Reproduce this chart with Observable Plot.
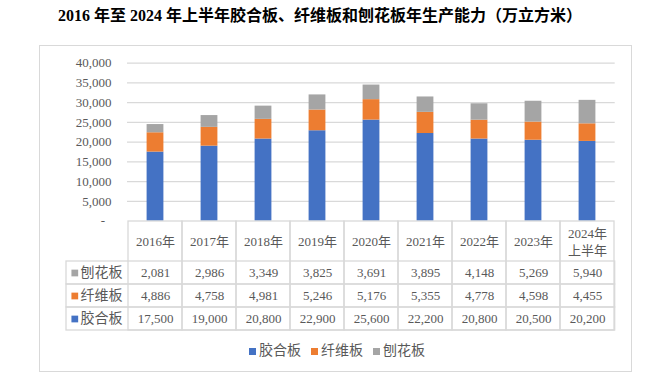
<!DOCTYPE html>
<html><head><meta charset="utf-8">
<script src="https://cdn.jsdelivr.net/npm/d3@7"></script>
<script src="https://cdn.jsdelivr.net/npm/@observablehq/plot@0.6"></script>
<style>
body{margin:0;background:#fff;}
#wrap{position:relative;width:650px;height:384px;overflow:hidden;background:#fff;font-family:'Liberation Serif','Noto Sans CJK SC',serif;}
#title{position:absolute;left:58px;top:6px;font-size:16px;font-weight:bold;line-height:20px;color:#000;white-space:nowrap;}
#frame{position:absolute;left:39px;top:45px;width:593px;height:327px;border:1.5px solid #d9d9d9;box-sizing:border-box;}
.layer{position:absolute;left:0;}
#legend{position:absolute;left:249px;top:341px;}
#legend .lg-swatches{font-family:'Liberation Serif','Noto Sans CJK SC',serif;font-size:14px;color:#595959;min-height:0;margin:0;line-height:20px;}
#legend .lg-swatch{margin-right:10px;}
#legend .lg-swatch > svg{margin-right:3px;}
</style></head>
<body>
<div id="wrap">
  <div id="title">2016 年至 2024 年上半年胶合板、纤维板和刨花板年生产能力（万立方米）</div>
  <div id="frame"></div>
  <div id="chart" class="layer" style="top:0"></div>
  <div id="table" class="layer" style="top:220px"></div>
  <div id="legend"></div>
</div>
<script>
// ---- data ----
const years = ["2016年","2017年","2018年","2019年","2020年","2021年","2022年","2023年","2024年\n上半年"];
const series = ["胶合板","纤维板","刨花板"];
const tableRows = ["刨花板","纤维板","胶合板"];
const plywood = [17500,19000,20800,22900,25600,22200,20800,20500,20200];
const fiberboard = [4886,4758,4981,5246,5176,5355,4778,4598,4455];
const particleboard = [2081,2986,3349,3825,3691,3895,4148,5269,5940];
const yTicks = [0,5000,10000,15000,20000,25000,30000,35000,40000];

const colors = ["#4472C4","#ED7D31","#A5A5A5"];
const valuesOf = {"胶合板":plywood,"纤维板":fiberboard,"刨花板":particleboard};
const fmt = d3.format(",");
const font = "'Liberation Serif','Noto Sans CJK SC',serif";
const grid = "#d9d9d9";

const rows = years.flatMap((yr,i)=>series.map(s=>({year:yr, series:s, value:valuesOf[s][i]})));
const cells = years.flatMap((yr,i)=>tableRows.map(s=>({year:yr, series:s, value:valuesOf[s][i]})));

const p1 = Plot.plot({
  width:650, height:225, marginTop:62.7, marginBottom:4.3, marginLeft:127, marginRight:35.3,
  style:{background:"transparent", overflow:"visible", fontFamily:font, fontSize:"13px"},
  x:{domain:years, padding:0, axis:null},
  y:{domain:[0,40000]},
  color:{domain:series, range:colors},
  marks:[
    Plot.ruleY(yTicks.filter(d=>d>0), {stroke:grid, strokeWidth:1.3}),
    Plot.barY(rows, {x:"year", y:"value", fill:"series", order:series, insetLeft:18.6, insetRight:18.6}),
    Plot.axisY(yTicks, {tickSize:0, tickPadding:16, label:null, color:"#595959",
      tickFormat:d=> d===0 ? "-  " : fmt(d)})
  ]
});
document.getElementById("chart").append(p1);

const p2 = Plot.plot({
  width:650, height:112, marginTop:41, marginBottom:2, marginLeft:127, marginRight:35.3,
  style:{background:"transparent", overflow:"visible", fontFamily:font, fontSize:"13px"},
  x:{domain:years, padding:0, axis:null},
  y:{domain:tableRows, padding:0, axis:null},
  color:{domain:series, range:colors},
  marks:[
    Plot.cell(tableRows, {y:d=>d, fill:"none", stroke:grid, strokeWidth:1.3, insetLeft:-61}),
    Plot.cell(years, {x:d=>d, fill:"none", stroke:grid, strokeWidth:1.3, insetTop:-40}),
    Plot.text(cells, {x:"year", y:"series", text:d=>fmt(d.value), fill:"#595959"}),
    Plot.text(years, {x:d=>d, text:d=>d, frameAnchor:"top", dy:-20.5, lineAnchor:"middle", lineHeight:1.3, fill:"#595959"}),
    Plot.dot(tableRows, {y:d=>d, fill:d=>d, symbol:"square", r:3.8, frameAnchor:"left", dx:-52.7}),
    Plot.text(tableRows, {y:d=>d, text:d=>d, frameAnchor:"left", textAnchor:"start", dx:-47, fill:"#595959", fontSize:14})
  ]
});
document.getElementById("table").append(p2);

const lg = p1.legend("color", {className:"lg", swatchSize:7});
document.getElementById("legend").append(lg);
</script>
</body></html>
